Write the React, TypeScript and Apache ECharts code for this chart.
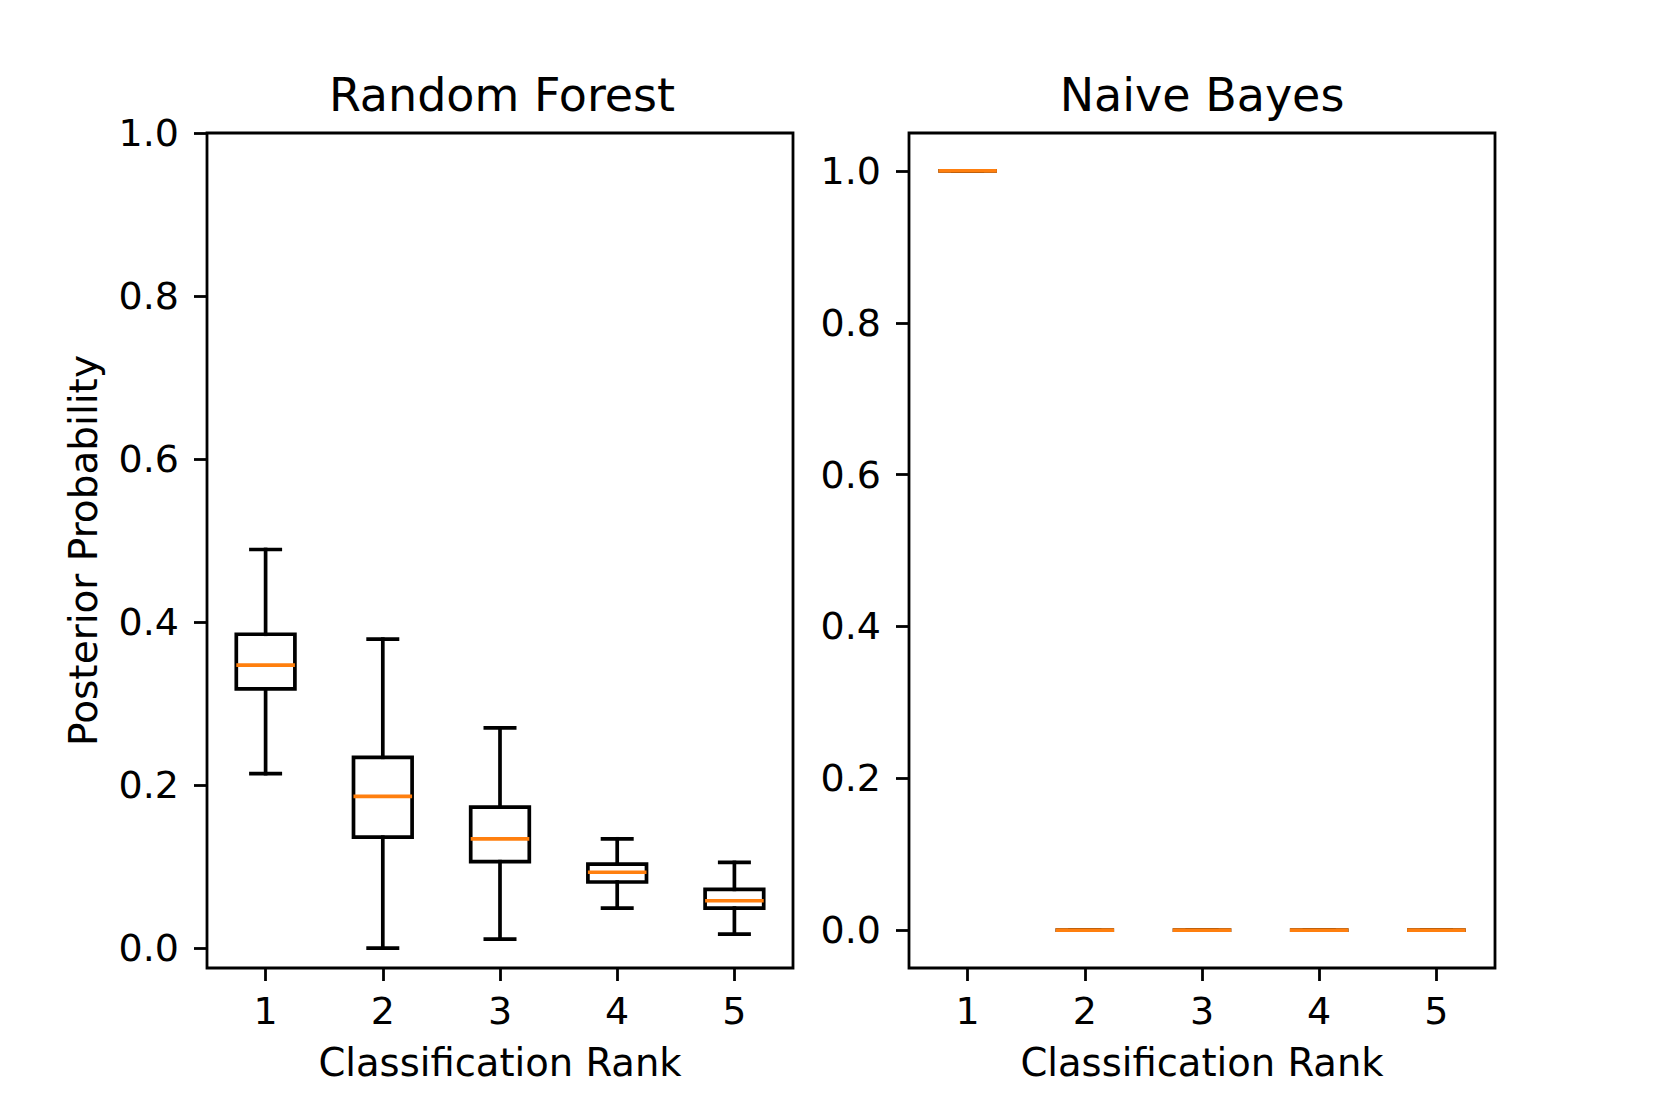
import React, { useEffect, useRef } from "react";
import * as echarts from "echarts";

const categories = ["1", "2", "3", "4", "5"];
const yTicks = [0, 0.2, 0.4, 0.6, 0.8, 1.0];

// Random Forest box statistics
const rfWhiskerLow = [0.214, 0.0, 0.011, 0.049, 0.017];
const rfQ1 = [0.318, 0.136, 0.106, 0.081, 0.049];
const rfMedian = [0.347, 0.186, 0.134, 0.093, 0.058];
const rfQ3 = [0.385, 0.234, 0.173, 0.103, 0.072];
const rfWhiskerHigh = [0.489, 0.379, 0.27, 0.134, 0.105];

// Naive Bayes box statistics
const nbWhiskerLow = [1.0, 0.0, 0.0, 0.0, 0.0];
const nbQ1 = [1.0, 0.0, 0.0, 0.0, 0.0];
const nbMedian = [1.0, 0.0, 0.0, 0.0, 0.0];
const nbQ3 = [1.0, 0.0, 0.0, 0.0, 0.0];
const nbWhiskerHigh = [1.0, 0.0, 0.0, 0.0, 0.0];

const FONT = "DejaVu Sans";
const LW = 3.7;

function build(lo: number[], q1: number[], med: number[], q3: number[], hi: number[]) {
  return categories.map((_, i) => [i, lo[i], q1[i], med[i], q3[i], hi[i]]);
}

function renderItem(params: any, api: any) {
  const idx = api.value(0);
  const lo = api.coord([idx, api.value(1)]);
  const q1 = api.coord([idx, api.value(2)]);
  const med = api.coord([idx, api.value(3)]);
  const q3 = api.coord([idx, api.value(4)]);
  const hi = api.coord([idx, api.value(5)]);
  const band = api.size([1, 0])[0];
  const cx = lo[0];
  const bw = band * 0.5;
  const cw = band * 0.25;
  const black = { stroke: "#000", lineWidth: LW, lineCap: "square", fill: null };
  const line = (x1: number, y1: number, x2: number, y2: number, style: any) => ({
    type: "line",
    shape: { x1, y1, x2, y2 },
    style,
  });
  return {
    type: "group",
    children: [
      line(cx, q1[1], cx, lo[1], black),
      line(cx, q3[1], cx, hi[1], black),
      line(cx - cw / 2, lo[1], cx + cw / 2, lo[1], black),
      line(cx - cw / 2, hi[1], cx + cw / 2, hi[1], black),
      {
        type: "polygon",
        shape: {
          points: [
            [cx - bw / 2, q1[1]],
            [cx + bw / 2, q1[1]],
            [cx + bw / 2, q3[1]],
            [cx - bw / 2, q3[1]],
          ],
        },
        style: { stroke: "#000", lineWidth: LW, fill: null, lineJoin: "miter" },
      },
      line(cx - bw / 2, med[1], cx + bw / 2, med[1], {
        stroke: "#ff7f0e",
        lineWidth: LW,
        lineCap: "butt",
      }),
    ],
  };
}

function xAxis(gridIndex: number) {
  return {
    type: "category",
    gridIndex,
    data: categories,
    boundaryGap: true,
    position: "bottom",
    name: "Classification Rank",
    nameLocation: "middle",
    nameGap: 75,
    nameTextStyle: { fontFamily: FONT, fontSize: 38.5, color: "#000" },
    axisLine: { show: false, onZero: false },
    axisTick: {
      show: true,
      inside: false,
      alignWithLabel: true,
      length: 13,
      lineStyle: { color: "#000", width: 2.8 },
    },
    axisLabel: {
      margin: 24,
      fontFamily: FONT,
      fontSize: 38,
      color: "#000",
    },
    splitLine: { show: false },
  };
}

function yAxis(gridIndex: number, min: number, max: number, withName: boolean) {
  return {
    type: "value",
    gridIndex,
    min,
    max,
    position: "left",
    name: withName ? "Posterior Probability" : "",
    nameLocation: "middle",
    nameRotate: 90,
    nameGap: 104,
    nameTextStyle: { fontFamily: FONT, fontSize: 39, color: "#000" },
    axisLine: { show: false, onZero: false },
    axisTick: {
      show: true,
      length: 13,
      customValues: yTicks,
      lineStyle: { color: "#000", width: 2.8 },
    },
    axisLabel: {
      show: true,
      margin: 28,
      customValues: yTicks,
      fontFamily: FONT,
      fontSize: 38,
      color: "#000",
      formatter: (v: number) => v.toFixed(1),
    },
    splitLine: { show: false },
  };
}

export default function App() {
  const ref = useRef<HTMLDivElement>(null);
  useEffect(() => {
    if (!ref.current) return;
    const chart = echarts.init(ref.current, null, { renderer: "svg" });
    const gridStyle = {
      show: true,
      borderColor: "#000",
      borderWidth: 2.8,
      backgroundColor: "transparent",
      containLabel: false,
    };
    const titleStyle = { fontFamily: FONT, fontSize: 46, fontWeight: "normal", color: "#000" };
    chart.setOption({
      animation: false,
      backgroundColor: "#fff",
      title: [
        { text: "Random Forest", left: 497, top: 67, textAlign: "center", textStyle: titleStyle },
        { text: "Naive Bayes", left: 1197, top: 67, textAlign: "center", textStyle: titleStyle },
      ],
      grid: [
        { ...gridStyle, left: 207, top: 133, width: 586, height: 835 },
        { ...gridStyle, left: 909, top: 133, width: 586, height: 835 },
      ],
      xAxis: [xAxis(0), xAxis(1)],
      yAxis: [yAxis(0, -0.0245, 1.0, true), yAxis(1, -0.05, 1.05, false)],
      series: [
        {
          type: "custom",
          xAxisIndex: 0,
          yAxisIndex: 0,
          renderItem,
          encode: { x: 0, y: [1, 2, 3, 4, 5] },
          data: build(rfWhiskerLow, rfQ1, rfMedian, rfQ3, rfWhiskerHigh),
        },
        {
          type: "custom",
          xAxisIndex: 1,
          yAxisIndex: 1,
          renderItem,
          encode: { x: 0, y: [1, 2, 3, 4, 5] },
          data: build(nbWhiskerLow, nbQ1, nbMedian, nbQ3, nbWhiskerHigh),
        },
      ],
    });
    return () => chart.dispose();
  }, []);
  return (
    <div
      ref={ref}
      style={{ position: "fixed", left: 0, top: 0, width: 1661, height: 1107 }}
    />
  );
}
